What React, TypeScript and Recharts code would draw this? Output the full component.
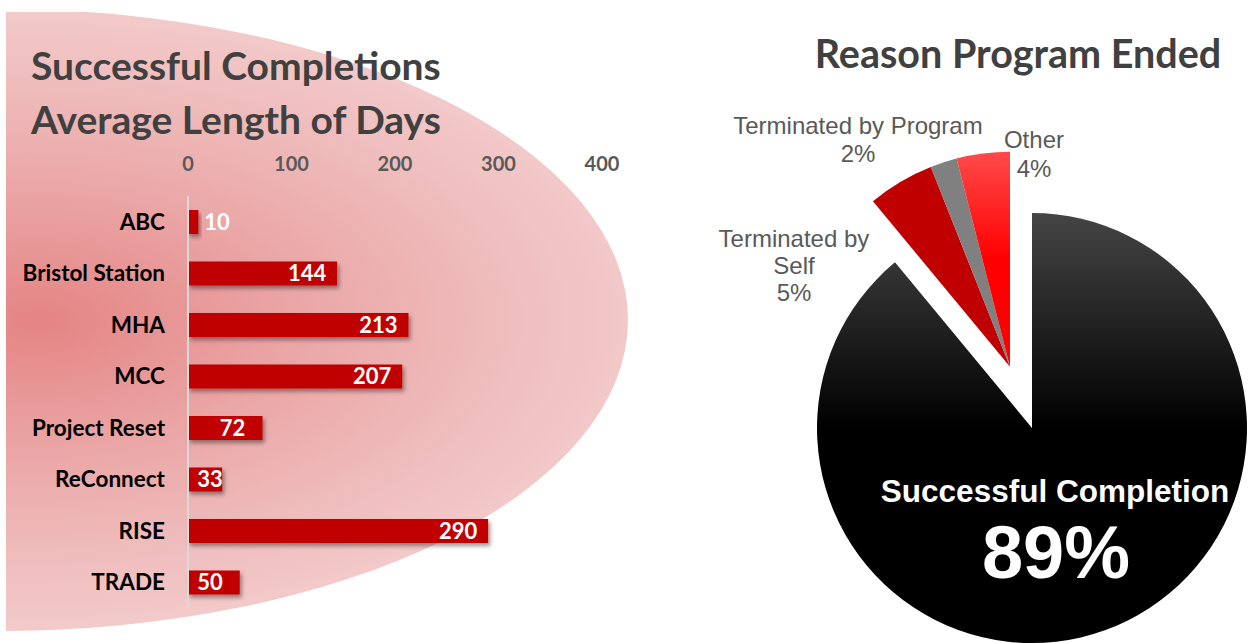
import React from 'react';
import { BarChart, Bar, XAxis, YAxis, LabelList, PieChart, Pie, Cell } from 'recharts';

// ---------- data ----------
const programs = ['ABC', 'Bristol Station', 'MHA', 'MCC', 'Project Reset', 'ReConnect', 'RISE', 'TRADE'];
const avgDays = [10, 144, 213, 207, 72, 33, 290, 50];
const dayTicks = [0, 100, 200, 300, 400];

const reasons = ['Successful Completion', 'Terminated by Self', 'Terminated by Program', 'Other'];
const reasonShares = [89, 5, 2, 4];
const reasonFills = ['url(#mainGrad)', '#c00000', '#808080', 'url(#otherGrad)'];

const barData = programs.map((name, i) => ({ name, days: avgDays[i] }));
const pieData = reasons.map((name, i) => ({ name, value: reasonShares[i] }));

// ---------- layout ----------
const W = 1248;
const H = 643;
const PIE_LEFT = 640;
const PIE_CX = 392;
const PIE_CY = 428;
const PIE_R = 215;
const EXPLODE = 65;
const total = reasonShares.reduce((a, b) => a + b, 0);
const smallShare = (total - reasonShares[0]) / total;
const bis = ((smallShare * 360) / 2) * (Math.PI / 180);
const CX2 = PIE_CX - EXPLODE * Math.sin(bis);
const CY2 = PIE_CY - EXPLODE * Math.cos(bis);

const labelFont = 'Lato, "Open Sans", sans-serif';
const arial = '"Liberation Sans", Arial, sans-serif';

const renderBarLabel = (props: any) => {
  const { x, y, width, height, value } = props;
  const inside = width > 25;
  const tx = inside ? Math.max(x + width - 30, x + 22) : x + width + 6;
  return (
    <text
      x={tx}
      y={y + height / 2}
      dy="0.36em"
      textAnchor={inside ? 'middle' : 'start'}
      fill="#ffffff"
      fontFamily={labelFont}
      fontWeight={700}
      fontSize={22}
    >
      {value}
    </text>
  );
};

const barShape = (p: any) => (
  <rect x={p.x} y={p.y} width={p.width} height={p.height} fill="#c00000" filter="url(#barShadow)" />
);

// label placement (relative to exploded pie center) per slice index
const smallLabelLayout: Record<number, { dx: number; dy: number; lh: number; wrap: boolean }> = {
  1: { dx: -216, dy: -120, lh: 27, wrap: true },
  2: { dx: -152, dy: -233, lh: 28, wrap: false },
  3: { dx: 24, dy: -219, lh: 29, wrap: false },
};

const renderSmallLabel = (props: any) => {
  const { index } = props;
  const lay = smallLabelLayout[index];
  if (!lay) return <g />;
  const d = pieData[index];
  let lines: string[];
  if (lay.wrap) {
    const k = d.name.lastIndexOf(' ');
    lines = [d.name.slice(0, k), d.name.slice(k + 1)];
  } else {
    lines = [d.name];
  }
  lines.push(`${d.value}%`);
  return (
    <g>
      {lines.map((t, i) => (
        <text
          key={i}
          x={CX2 + lay.dx}
          y={CY2 + lay.dy + i * lay.lh}
          textAnchor="middle"
          fill="#595959"
          fontFamily={arial}
          fontSize={24}
        >
          {t}
        </text>
      ))}
    </g>
  );
};

const renderMainLabel = (props: any) => {
  const { index } = props;
  if (index !== 0) return <g />;
  const d = pieData[0];
  return (
    <g>
      <text x={PIE_CX + 23} y={PIE_CY + 74} textAnchor="middle" fill="#ffffff" fontFamily={arial} fontWeight={700} fontSize={31.5}>
        {d.name}
      </text>
      <text x={PIE_CX + 24} y={PIE_CY + 150} textAnchor="middle" fill="#ffffff" fontFamily={arial} fontWeight={700} fontSize={74}>
        {`${d.value}%`}
      </text>
    </g>
  );
};

export default function App() {
  return (
    <div style={{ position: 'absolute', left: 0, top: 0, width: W, height: H, background: '#fff', overflow: 'hidden' }}>
      <svg width={W} height={H} style={{ position: 'absolute', left: 0, top: 0 }}>
        <defs>
          <radialGradient id="bgGrad" cx="0.516" cy="0.5" r="0.5" fx="0.53" fy="0.5">
            <stop offset="0" stopColor="#e58484" />
            <stop offset="0.45" stopColor="#eba8a8" />
            <stop offset="0.8" stopColor="#f0bfbf" />
            <stop offset="1" stopColor="#f3caca" />
          </radialGradient>
          <linearGradient id="mainGrad" x1="0" y1="0" x2="0" y2="1">
            <stop offset="0" stopColor="#454545" />
            <stop offset="0.5" stopColor="#000000" />
            <stop offset="1" stopColor="#000000" />
          </linearGradient>
          <linearGradient id="otherGrad" x1="0" y1="0" x2="0" y2="1">
            <stop offset="0" stopColor="#ff4a4a" />
            <stop offset="0.5" stopColor="#ff0000" />
            <stop offset="1" stopColor="#ff0000" />
          </linearGradient>
          <filter id="barShadow" x="-20%" y="-50%" width="150%" height="250%">
            <feDropShadow dx="2" dy="3" stdDeviation="2" floodColor="#000" floodOpacity="0.4" />
          </filter>
          <clipPath id="bgClip">
            <rect x={6} y={12} width={640} height={622} />
          </clipPath>
        </defs>
        <ellipse cx={0} cy={320} rx={628} ry={311} fill="url(#bgGrad)" clipPath="url(#bgClip)" />
        <text x={31} y={80} fill="#404040" fontFamily={labelFont} fontWeight={700} fontSize={39}>
          Successful Completions
        </text>
        <text x={31} y={134} fill="#404040" fontFamily={labelFont} fontWeight={700} fontSize={39}>
          Average Length of Days
        </text>
        <text x={1018} y={68} textAnchor="middle" fill="#404040" fontFamily={labelFont} fontWeight={700} fontSize={39.5}>
          Reason Program Ended
        </text>
      </svg>

      <div style={{ position: 'absolute', left: 0, top: 0 }}>
        <BarChart
          width={640}
          height={643}
          data={barData}
          layout="vertical"
          margin={{ top: 140, right: 38, left: 0, bottom: 35 }}
          barSize={24}
        >
          <XAxis
            type="number"
            orientation="top"
            domain={[0, 400]}
            ticks={dayTicks}
            interval={0}
            height={56}
            axisLine={false}
            tickLine={false}
            tickSize={0}
            tickMargin={25}
            tick={{ fill: '#595959', fontFamily: labelFont, fontWeight: 700, fontSize: 20 }}
          />
          <YAxis
            type="category"
            dataKey="name"
            width={188}
            interval={0}
            axisLine={{ stroke: '#d9d9d9', strokeWidth: 2 }}
            tickLine={false}
            tickSize={0}
            tickMargin={23}
            tick={{ fill: '#000000', fontFamily: labelFont, fontWeight: 700, fontSize: 22.5 }}
          />
          <Bar dataKey="days" fill="#c00000" shape={barShape} isAnimationActive={false}>
            <LabelList dataKey="days" content={renderBarLabel} />
          </Bar>
        </BarChart>
      </div>

      <div style={{ position: 'absolute', left: PIE_LEFT, top: 0 }}>
        <PieChart width={W - PIE_LEFT} height={H} margin={{ top: 0, right: 0, bottom: 0, left: 0 }}>
          <Pie
            data={pieData}
            dataKey="value"
            nameKey="name"
            cx={PIE_CX}
            cy={PIE_CY}
            outerRadius={PIE_R}
            startAngle={90}
            endAngle={-270}
            stroke="none"
            label={renderMainLabel}
            labelLine={false}
            isAnimationActive={false}
          >
            {pieData.map((d, i) => (
              <Cell key={d.name} fill={i === 0 ? reasonFills[i] : 'none'} stroke="none" />
            ))}
          </Pie>
          <Pie
            data={pieData}
            dataKey="value"
            nameKey="name"
            cx={CX2}
            cy={CY2}
            outerRadius={PIE_R}
            startAngle={90}
            endAngle={-270}
            stroke="none"
            label={renderSmallLabel}
            labelLine={false}
            isAnimationActive={false}
          >
            {pieData.map((d, i) => (
              <Cell key={d.name} fill={i === 0 ? 'none' : reasonFills[i]} stroke="none" />
            ))}
          </Pie>
        </PieChart>
      </div>
    </div>
  );
}
